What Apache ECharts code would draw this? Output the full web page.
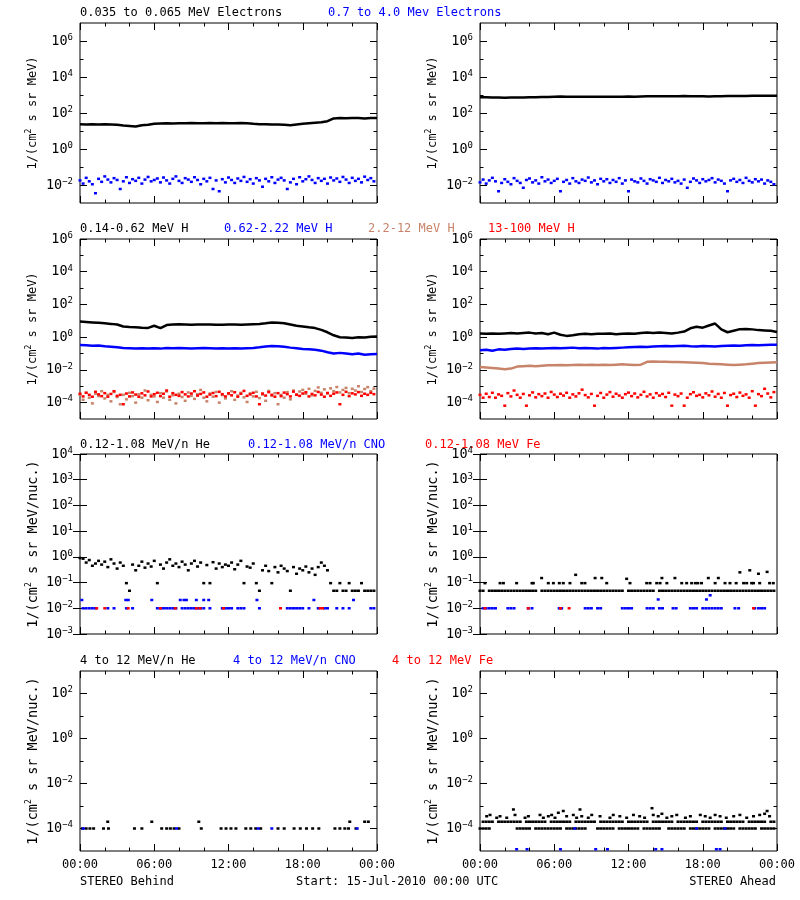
<!DOCTYPE html>
<html><head><meta charset="utf-8">
<script src="https://cdn.jsdelivr.net/npm/echarts@6/dist/echarts.min.js"></script>
<style>html,body{margin:0;padding:0;background:#fff}#c{width:800px;height:900px}</style>
</head><body><div id="c"></div>
<script>
// ---------- DATA (time in hours from 15-Jul-2010 00:00 UTC) ----------
// half-hour cadence (0 .. 24 h)
const behindEleLow = [24,23,24,23,24,23,22,20,19,18,21,22,25,26,27,26,27,27,28,27,27,28,27,28,27,27,28,27,25,24,24,23,23,22,21,23,25,27,29,31,35,50,52,51,53,52,50,52,53];
const aheadEleLow = [760,740,720,730,700,720,730,720,740,760,770,780,800,820,810,800,790,800,810,800,800,810,800,810,820,810,830,840,850,860,850,840,850,870,860,850,840,830,850,860,880,890,880,890,900,910,900,910,920];
const behindH1 = [9,8.5,8,7.5,7,6.5,6,4.5,4.2,4,3.8,3.7,5,3.6,5.5,6,6.2,6,5.8,6,5.9,6,5.7,5.8,6,5.9,5.8,6,6.2,6.3,7,7.8,7.5,7.2,6,5,4.5,4,3.6,2.8,2,1.3,1,0.95,0.9,1,0.95,1.05,1.1];
const behindH2 = [0.33,0.32,0.3,0.31,0.28,0.26,0.24,0.22,0.21,0.2,0.21,0.2,0.21,0.2,0.22,0.21,0.22,0.21,0.2,0.21,0.22,0.21,0.2,0.21,0.2,0.21,0.2,0.21,0.22,0.24,0.27,0.29,0.28,0.26,0.23,0.21,0.19,0.18,0.17,0.15,0.12,0.1,0.11,0.1,0.09,0.1,0.085,0.09,0.095];
const aheadH1 = [1.7,1.6,1.7,1.6,1.7,1.8,1.7,1.8,1.9,1.7,1.8,1.5,1.9,1.4,1.2,1.3,1.5,1.6,1.5,1.6,1.6,1.7,1.5,1.6,1.7,1.6,1.8,1.9,1.8,1.9,1.8,1.7,1.9,2.2,3.5,4.3,3.8,5.2,6.8,3,2,2.5,3.1,3.2,3,2.7,2.6,2.5,2.1];
const aheadH2 = [0.16,0.17,0.15,0.18,0.17,0.19,0.2,0.19,0.2,0.21,0.2,0.21,0.22,0.21,0.22,0.23,0.21,0.22,0.21,0.2,0.22,0.21,0.22,0.23,0.24,0.25,0.26,0.25,0.27,0.28,0.29,0.28,0.29,0.3,0.28,0.27,0.29,0.28,0.27,0.29,0.3,0.31,0.3,0.32,0.33,0.32,0.33,0.34,0.35];
const aheadH3 = [0.015,0.014,0.013,0.012,0.011,0.012,0.016,0.017,0.018,0.017,0.018,0.019,0.019,0.02,0.019,0.02,0.021,0.02,0.021,0.02,0.021,0.02,0.021,0.022,0.021,0.02,0.021,0.031,0.033,0.032,0.031,0.03,0.03,0.029,0.028,0.027,0.026,0.024,0.023,0.022,0.021,0.02,0.021,0.022,0.024,0.026,0.027,0.028,0.029];

// quarter-hour cadence (0 .. 23.75 h)
const behindEleHigh = [0.018,0.012,0.025,0.016,0.011,0.0035,0.022,0.015,0.03,0.02,0.014,0.024,0.019,0.006,0.016,0.027,0.013,0.021,0.017,0.025,0.012,0.02,0.028,0.016,0.019,0.023,0.014,0.026,0.018,0.012,0.022,0.03,0.017,0.013,0.024,0.02,0.015,0.027,0.019,0.011,0.022,0.016,0.025,0.006,0.018,0.0045,0.021,0.014,0.026,0.019,0.013,0.023,0.017,0.028,0.015,0.021,0.012,0.024,0.018,0.008,0.022,0.016,0.027,0.013,0.02,0.025,0.018,0.006,0.014,0.022,0.011,0.027,0.016,0.021,0.03,0.019,0.013,0.024,0.017,0.022,0.012,0.026,0.018,0.023,0.015,0.028,0.02,0.013,0.025,0.017,0.022,0.014,0.029,0.019,0.024,0.016];
const aheadEleHigh = [0.014,0.02,0.012,0.018,0.025,0.016,0.0045,0.013,0.021,0.015,0.011,0.024,0.017,0.013,0.007,0.019,0.023,0.014,0.018,0.012,0.027,0.016,0.02,0.013,0.017,0.022,0.0045,0.015,0.019,0.012,0.024,0.016,0.013,0.02,0.017,0.026,0.014,0.018,0.011,0.022,0.016,0.021,0.013,0.019,0.015,0.024,0.012,0.018,0.0045,0.02,0.016,0.014,0.023,0.017,0.012,0.021,0.018,0.015,0.025,0.013,0.019,0.016,0.022,0.014,0.017,0.012,0.02,0.007,0.015,0.023,0.018,0.013,0.021,0.016,0.019,0.024,0.014,0.02,0.017,0.012,0.0045,0.018,0.022,0.015,0.019,0.013,0.025,0.017,0.014,0.021,0.016,0.02,0.012,0.018,0.015,0.011];
const behindH3 = [3e-4,1.5e-4,4e-4,2e-4,9e-5,3.5e-4,2.5e-4,5e-4,1.8e-4,3e-4,1.2e-4,4.5e-4,2.2e-4,8e-5,3e-4,1.6e-4,4e-4,2.5e-4,1e-4,3.2e-4,2e-4,5.5e-4,1.4e-4,3e-4,2.4e-4,1.1e-4,3.8e-4,2e-4,4.8e-4,1.5e-4,2.8e-4,9e-5,3.5e-4,2.2e-4,1.3e-4,4.2e-4,2.6e-4,1.7e-4,3.3e-4,6e-4,2e-4,1.2e-4,3.6e-4,2.3e-4,4.5e-4,1e-4,2.9e-4,1.8e-4,3.4e-4,5e-4,1.5e-4,2.7e-4,4e-4,2.1e-4,1.1e-4,3.7e-4,2.4e-4,4.6e-4,1.9e-4,3.1e-4,1.3e-4,5.2e-4,2.6e-4,3.8e-4,8e-5,3e-4,2e-4,4.4e-4,1.6e-4,5.5e-4,3.2e-4,4.8e-4,6e-4,3.5e-4,7e-4,2.8e-4,5.2e-4,8.5e-4,4e-4,6.5e-4,3.6e-4,7.5e-4,5e-4,9e-4,4.2e-4,6e-4,8e-4,3.8e-4,7e-4,5.5e-4,1e-3,4.5e-4,6.8e-4,8.8e-4,5e-4,7.2e-4];
const behindH4 = [3.5e-4,2.4e-4,4e-4,3e-4,2.3e-4,4.6e-4,3.2e-4,2.5e-4,3.8e-4,2.3e-4,3.4e-4,5e-4,2.6e-4,3e-4,8e-5,3.6e-4,2.4e-4,4.2e-4,3.1e-4,2.3e-4,3.7e-4,2.8e-4,4.8e-4,2.4e-4,3.3e-4,4e-4,2.5e-4,3.5e-4,5.5e-4,2.3e-4,3.8e-4,3e-4,2.6e-4,4.4e-4,3.2e-4,2.4e-4,3.6e-4,5e-4,2.7e-4,3.4e-4,4.2e-4,2.3e-4,3.1e-4,3.9e-4,2.5e-4,4.6e-4,3.3e-4,2.4e-4,3.7e-4,2.8e-4,4.3e-4,2.3e-4,3.5e-4,5.2e-4,2.6e-4,3.2e-4,4e-4,2.4e-4,8e-5,3.6e-4,2.7e-4,4.4e-4,3e-4,2.3e-4,3.8e-4,2.5e-4,4.1e-4,3.3e-4,2.4e-4,4.7e-4,3e-4,2.6e-4,3.6e-4,4.3e-4,2.4e-4,3.4e-4,2.8e-4,4.5e-4,3.1e-4,2.3e-4,3.9e-4,2.6e-4,3.5e-4,4.2e-4,8e-5,3e-4,4.6e-4,2.5e-4,3.7e-4,3.2e-4,4.4e-4,2.6e-4,3.5e-4,3e-4,4e-4,3.3e-4];
const aheadH4 = [3e-4,2e-4,3.5e-4,2.2e-4,4e-4,2e-4,3.2e-4,2.6e-4,6.5e-5,3.8e-4,2.4e-4,5.5e-4,3e-4,2e-4,3.4e-4,6.5e-5,2.8e-4,4.2e-4,2.1e-4,3.3e-4,2.5e-4,3.6e-4,2e-4,4.5e-4,3.1e-4,2.2e-4,3.5e-4,2.7e-4,4e-4,2e-4,3.2e-4,2.4e-4,3.7e-4,6.2e-4,2.9e-4,2.1e-4,3.4e-4,6.5e-5,2.6e-4,3.9e-4,2e-4,3.1e-4,4.4e-4,2.3e-4,3.5e-4,2.7e-4,2e-4,3.3e-4,4.1e-4,2.5e-4,3.6e-4,2.1e-4,3e-4,4.6e-4,2.4e-4,3.2e-4,2e-4,3.8e-4,2.7e-4,3.4e-4,2.2e-4,4e-4,6.5e-5,3.1e-4,2.5e-4,3.6e-4,6.5e-5,2e-4,3.3e-4,4.3e-4,2.6e-4,3e-4,2.1e-4,3.7e-4,2.8e-4,4.8e-4,2.3e-4,3.4e-4,2e-4,3.9e-4,6.5e-5,2.9e-4,3.5e-4,2.2e-4,4.1e-4,2.6e-4,3.2e-4,2e-4,5e-4,6.5e-5,3.3e-4,2.5e-4,7e-4,3.6e-4,2.1e-4,4.4e-4];
const behindHe = [0.9,0.85,0.6,0.75,0.45,0.55,0.7,0.5,0.65,0.4,0.8,0.55,0.35,0.6,0.45,0.095,0.048,0.5,0.3,0.45,0.65,0.38,0.55,0.42,0.7,0.095,0.5,0.35,0.6,0.8,0.45,0.55,0.4,0.65,0.5,0.3,0.55,0.7,0.42,0.6,0.095,0.48,0.095,0.62,0.35,0.55,0.4,0.5,0.45,0.6,0.33,0.5,0.7,0.095,0.42,0.38,0.55,0.095,0.048,0.3,0.45,0.28,0.095,0.4,0.25,0.45,0.35,0.28,0.048,0.4,0.22,0.35,0.3,0.42,0.25,0.35,0.2,0.4,0.6,0.45,0.3,0.095,0.048,0.048,0.095,0.048,0.048,0.095,0.048,0.048,0.048,0.095,0.048,0.048,0.048,0.048];
const aheadHeBase = [0.048,0.048,null,0.048,0.048,0.048,0.048,0.048,0.048,0.048,0.048,0.048,0.048,0.048,0.048,0.048,0.048,0.048,0.048,null,0.048,0.048,0.048,0.048,0.048,0.048,0.048,0.048,0.048,0.048,0.048,0.048,0.048,0.048,0.048,0.048,0.048,0.048,0.048,0.048,0.048,0.048,0.048,0.048,0.048,0.048,0.048,null,0.048,0.048,0.048,0.048,0.048,0.048,0.048,0.048,0.048,null,0.048,0.048,0.048,0.048,0.048,0.048,0.048,0.048,0.048,0.048,0.048,0.048,0.048,0.048,0.048,0.048,0.048,0.048,0.048,0.048,0.048,0.048,0.048,0.048,0.048,0.048,0.048,0.048,0.048,0.048,0.048,0.048,0.048,0.048,0.048,0.048,0.048,0.048];
const aheadHe4Low = [1e-4,1e-4,1e-4,1e-4,null,null,null,null,null,null,null,null,1e-4,1e-4,1e-4,1e-4,1e-4,null,1e-4,1e-4,1e-4,1e-4,1e-4,1e-4,1e-4,1e-4,1e-4,null,1e-4,1e-4,1e-4,1e-4,1e-4,1e-4,1e-4,null,null,null,1e-4,1e-4,1e-4,1e-4,1e-4,1e-4,null,1e-4,1e-4,1e-4,1e-4,1e-4,1e-4,1e-4,null,1e-4,1e-4,1e-4,1e-4,1e-4,1e-4,null,null,1e-4,1e-4,1e-4,1e-4,1e-4,1e-4,null,1e-4,1e-4,1e-4,1e-4,1e-4,1e-4,1e-4,null,1e-4,1e-4,1e-4,1e-4,1e-4,1e-4,1e-4,null,1e-4,1e-4,1e-4,1e-4,1e-4,1e-4,null,1e-4,1e-4,1e-4,1e-4,1e-4];
const aheadHe4Mid = [null,2e-4,2e-4,2e-4,2e-4,null,2e-4,2e-4,2e-4,2e-4,2e-4,2e-4,2e-4,2e-4,null,2e-4,2e-4,2e-4,2e-4,2e-4,2e-4,2e-4,null,2e-4,2e-4,2e-4,2e-4,2e-4,2e-4,2e-4,null,2e-4,2e-4,2e-4,2e-4,2e-4,2e-4,2e-4,null,2e-4,2e-4,2e-4,2e-4,2e-4,2e-4,2e-4,2e-4,null,2e-4,2e-4,2e-4,2e-4,2e-4,2e-4,2e-4,null,2e-4,2e-4,2e-4,2e-4,2e-4,2e-4,2e-4,null,2e-4,2e-4,2e-4,2e-4,2e-4,2e-4,2e-4,null,2e-4,2e-4,2e-4,2e-4,2e-4,2e-4,2e-4,null,2e-4,2e-4,2e-4,2e-4,2e-4,2e-4,null,2e-4,2e-4,2e-4,2e-4,2e-4,2e-4,null,2e-4,2e-4];

// sparse [hour, value] points
const behindHeCNO = [[0.15,0.021],[0.25,0.01],[0.5,0.01],[0.75,0.01],[1,0.01],[1.25,0.01],[2.25,0.01],[2.75,0.01],[3.7,0.021],[3.75,0.01],[3.9,0.021],[4.25,0.01],[5.8,0.021],[6.25,0.01],[6.5,0.01],[6.75,0.01],[7,0.01],[7.25,0.01],[7.5,0.01],[7.75,0.01],[8.1,0.021],[8.25,0.01],[8.4,0.021],[8.5,0.01],[8.6,0.021],[8.75,0.01],[9,0.01],[9.25,0.01],[9.4,0.021],[9.5,0.01],[9.75,0.01],[10,0.021],[10,0.01],[10.4,0.021],[10.5,0.01],[11.5,0.01],[11.75,0.01],[12,0.01],[12.25,0.01],[12.75,0.01],[13,0.01],[13.25,0.01],[14.3,0.021],[14.5,0.01],[16.75,0.01],[17,0.01],[17.25,0.01],[17.5,0.01],[17.75,0.01],[18,0.01],[18.5,0.01],[18.9,0.021],[19.25,0.01],[19.75,0.01],[20,0.01],[20.75,0.01],[21.25,0.01],[21.75,0.01],[22.1,0.021],[23.5,0.01],[23.75,0.01]];
const behindHeFe = [[1.35,0.01],[2,0.01],[3.9,0.01],[6.5,0.01],[7.7,0.01],[9.4,0.01],[9.7,0.01],[11.6,0.01],[16.2,0.01],[19.4,0.01],[19.6,0.01]];
const aheadHeHigh = [[0.4,0.095],[1.62,0.095],[1.89,0.095],[2.96,0.095],[4.2,0.095],[4.31,0.095],[4.98,0.15],[5.52,0.095],[5.93,0.095],[6.41,0.095],[6.73,0.095],[7.27,0.095],[7.73,0.2],[8.22,0.095],[8.48,0.095],[9.3,0.15],[9.84,0.15],[10.24,0.095],[11.85,0.14],[12.12,0.095],[13.47,0.095],[13.74,0.095],[14.28,0.095],[14.55,0.095],[14.7,0.15],[15.1,0.095],[15.75,0.15],[16.3,0.095],[16.7,0.095],[17.1,0.095],[17.4,0.095],[17.6,0.095],[17.9,0.095],[18.45,0.15],[19,0.095],[19.26,0.15],[19.8,0.095],[20.2,0.095],[20.7,0.095],[21,0.25],[21.3,0.095],[21.55,0.095],[21.8,0.3],[21.95,0.095],[22.1,0.095],[22.5,0.22],[22.6,0.095],[23.2,0.26],[23.4,0.095],[23.7,0.095]];
const aheadHeCNO = [[0.25,0.01],[0.5,0.01],[0.75,0.01],[1,0.01],[1.25,0.01],[2.25,0.01],[2.5,0.01],[2.75,0.01],[3.9,0.01],[4.2,0.01],[6.4,0.01],[6.6,0.01],[8.5,0.01],[8.75,0.01],[9,0.01],[9.5,0.01],[9.75,0.01],[11.5,0.01],[11.75,0.01],[12,0.01],[12.25,0.01],[13.5,0.01],[13.75,0.01],[14,0.01],[14.4,0.022],[14.5,0.01],[14.75,0.01],[15.6,0.01],[15.85,0.01],[17,0.01],[17.25,0.01],[17.5,0.01],[18,0.01],[18.25,0.01],[18.3,0.022],[18.5,0.01],[18.6,0.032],[18.75,0.01],[19,0.01],[19.25,0.01],[19.5,0.01],[20.6,0.01],[20.9,0.01],[22.2,0.01],[22.5,0.01],[22.75,0.01],[23,0.01]];
const aheadHeFe = [[0.4,0.01],[3.9,0.01],[6.5,0.01],[7.2,0.01],[22.1,0.01]];
const behindHe4 = [[0.2,1e-4],[0.5,1e-4],[0.8,1e-4],[1.1,1e-4],[1.9,1e-4],[2.24,2e-4],[2.3,1e-4],[4.4,1e-4],[5,1e-4],[5.8,2e-4],[6.6,1e-4],[7,1e-4],[7.3,1e-4],[7.6,1e-4],[8,1e-4],[9.6,2e-4],[9.8,1e-4],[11.4,1e-4],[11.8,1e-4],[12.2,1e-4],[12.6,1e-4],[13.4,1e-4],[13.8,1e-4],[14.2,1e-4],[14.6,1e-4],[16,1e-4],[16.5,1e-4],[17.3,1e-4],[17.8,1e-4],[18.3,1e-4],[18.8,1e-4],[19.3,1e-4],[20.6,1e-4],[21,1e-4],[21.4,1e-4],[21.7,1e-4],[21.8,2e-4],[22.3,1e-4],[23,2e-4],[23.3,2e-4]];
const behindCNO4 = [[0.27,1e-4],[7.8,1e-4],[14.4,1e-4],[15.5,1e-4],[22.4,1e-4]];
const aheadHe4High = [[0.54,3.5e-4],[0.81,4e-4],[1.35,3e-4],[1.62,3.5e-4],[2.16,3e-4],[2.7,7e-4],[2.83,4e-4],[3.64,3e-4],[3.91,3.5e-4],[4.85,4e-4],[5.12,3e-4],[5.52,3.5e-4],[5.79,4e-4],[6.06,3e-4],[6.33,5e-4],[6.73,6e-4],[7,3.5e-4],[7.54,4e-4],[7.81,3e-4],[8.08,7e-4],[8.22,3.5e-4],[8.75,3e-4],[9.03,4e-4],[9.7,3.5e-4],[10.5,3e-4],[10.77,4e-4],[11.3,3.5e-4],[11.85,3e-4],[12.4,4e-4],[12.9,3.5e-4],[13.3,3e-4],[13.9,8e-4],[14,4e-4],[14.4,3.5e-4],[14.7,4.5e-4],[15.1,3e-4],[15.5,3.5e-4],[15.9,4e-4],[16.6,3e-4],[17,3.5e-4],[17.8,4e-4],[18.2,3.5e-4],[18.6,3e-4],[19,4e-4],[19.4,3.5e-4],[19.9,3e-4],[20.5,3.5e-4],[21,4e-4],[21.55,3e-4],[22.1,3.5e-4],[22.6,4e-4],[23,4.5e-4],[23.2,6e-4],[23.4,3.5e-4]];
const aheadCNO4 = [[7.67,1e-4],[17.5,1e-4],[19.8,1e-4],[2.96,1.2e-5],[3.8,1.2e-5],[6.5,1.2e-5],[9.35,1.2e-5],[10.3,1.2e-5],[14.2,1.2e-5],[14.7,1.2e-5],[19.1,1.2e-5],[19.4,1.2e-5]];

// axis tick labels
const xTickLabels = ['00:00','06:00','12:00','18:00','00:00'];
const rowAxes = [
  {min:1e-3, max:1e7, major:[-2,0,2,4,6], minor:[-1,1,3,5], title:'MeV'},
  {min:1e-5, max:1e6, major:[-4,-2,0,2,4,6], minor:[-3,-1,1,3,5], title:'MeV'},
  {min:1e-3, max:1e4, major:[-3,-2,-1,0,1,2,3,4], minor:[], title:'MeV/nuc.'},
  {min:1e-5, max:1e3, major:[-4,-2,0,2], minor:[-3,-1,1], title:'MeV/nuc.'}
];
const titles = [
  [['0.035 to 0.065 MeV Electrons','#000000',80],['0.7 to 4.0 Mev Electrons','#0000ff',328]],
  [['0.14-0.62 MeV H','#000000',80],['0.62-2.22 MeV H','#0000ff',224],['2.2-12 MeV H','#c8846a',368],['13-100 MeV H','#ff0000',488]],
  [['0.12-1.08 MeV/n He','#000000',80],['0.12-1.08 MeV/n CNO','#0000ff',248],['0.12-1.08 MeV Fe','#ff0000',425]],
  [['4 to 12 MeV/n He','#000000',80],['4 to 12 MeV/n CNO','#0000ff',233],['4 to 12 MeV Fe','#ff0000',392]]
];

// ---------- CHART ----------
const FONT = '"DejaVu Sans Mono", monospace';
const BLACK='#000000', BLUE='#0000ff', SIENNA='#c8846a', RED='#ff0000';
function cad(arr, step){ const out=[]; arr.forEach((v,i)=>{ if(v!=null) out.push([i*step, v]); }); return out; }
const L = (arr)=>cad(arr,0.5), Q = (arr)=>cad(arr,0.25);

const panels = [
  [ {d:L(behindEleLow),c:BLACK,t:'line'}, {d:Q(behindEleHigh),c:BLUE,t:'sc'} ],
  [ {d:L(aheadEleLow),c:BLACK,t:'line'}, {d:Q(aheadEleHigh),c:BLUE,t:'sc'} ],
  [ {d:L(behindH1),c:BLACK,t:'line'}, {d:L(behindH2),c:BLUE,t:'line'}, {d:Q(behindH3),c:SIENNA,t:'sc'}, {d:Q(behindH4),c:RED,t:'sc'} ],
  [ {d:L(aheadH1),c:BLACK,t:'line'}, {d:L(aheadH2),c:BLUE,t:'line'}, {d:L(aheadH3),c:SIENNA,t:'line'}, {d:Q(aheadH4),c:RED,t:'sc'} ],
  [ {d:Q(behindHe),c:BLACK,t:'sc'}, {d:behindHeCNO,c:BLUE,t:'sc'}, {d:behindHeFe,c:RED,t:'sc'} ],
  [ {d:Q(aheadHeBase),c:BLACK,t:'sc'}, {d:aheadHeHigh,c:BLACK,t:'sc'}, {d:aheadHeCNO,c:BLUE,t:'sc'}, {d:aheadHeFe,c:RED,t:'sc'} ],
  [ {d:behindHe4,c:BLACK,t:'sc'}, {d:behindCNO4,c:BLUE,t:'sc'} ],
  [ {d:Q(aheadHe4Low),c:BLACK,t:'sc'}, {d:Q(aheadHe4Mid),c:BLACK,t:'sc'}, {d:aheadHe4High,c:BLACK,t:'sc'}, {d:aheadCNO4,c:BLUE,t:'sc'} ]
];

const TOPS=[23,239,454,671], LEFTS=[80,480], GW=297, GH=180;
const grid=[], xAxis=[], yAxis=[], series=[], graphic=[];
const expFmt = v => { const e=Math.round(Math.log10(v)); return '{b|10}{e|'+(e<0?'\u2212'+(-e):e)+'}'; };
const richLab = {b:{fontFamily:FONT,fontSize:13.5,lineHeight:16,color:'#000',verticalAlign:'middle'},
                 e:{fontFamily:FONT,fontSize:9,lineHeight:9,color:'#000',verticalAlign:'top'}};
for(let r=0;r<4;r++){
  const ra = rowAxes[r];
  for(let c=0;c<2;c++){
    const g=r*2+c;
    grid.push({left:LEFTS[c], top:TOPS[r], width:GW, height:GH, show:true, borderColor:'#000', borderWidth:1, backgroundColor:'transparent'});
    const xBase = xAxis.length;
    ['bottom','top'].forEach(pos=>{
      xAxis.push({gridIndex:g, type:'value', min:0, max:24, interval:6, position:pos,
        axisLine:{show:false}, splitLine:{show:false},
        axisTick:{show:true, inside:true, length:7, lineStyle:{color:'#000',width:1}},
        minorTick:{show:true, splitNumber:3, length:3.5, lineStyle:{color:'#000',width:1}},
        minorSplitLine:{show:false},
        axisLabel:{show: r===3 && pos==='bottom', margin:8, color:'#000', fontFamily:FONT, fontSize:12,
          formatter: v => xTickLabels[Math.round(v/6)]}
      });
    });
    const yBase = yAxis.length;
    ['left','right'].forEach(pos=>{
      yAxis.push({gridIndex:g, type:'log', logBase:10, min:ra.min, max:ra.max, position:pos,
        axisLine:{show:false}, splitLine:{show:false},
        axisTick:{show:true, inside:true, length:7, customValues: ra.major.map(e=>Math.pow(10,e)), lineStyle:{color:'#000'}},
        axisLabel:{show: pos==='left', customValues: ra.major.map(e=>Math.pow(10,e)), margin:7, formatter: expFmt, rich: richLab}
      });
      if(ra.minor.length){
        yAxis.push({gridIndex:g, type:'log', logBase:10, min:ra.min, max:ra.max, position:pos,
          axisLine:{show:false}, splitLine:{show:false},
          axisTick:{show:true, inside:true, length:3.5, customValues: ra.minor.map(e=>Math.pow(10,e)), lineStyle:{color:'#000'}},
          axisLabel:{show:false}
        });
      }
    });
    panels[g].forEach(s=>{
      if(s.t==='line'){
        series.push({type:'line', xAxisIndex:xBase, yAxisIndex:yBase, data:s.d, showSymbol:false, symbol:'none',
          lineStyle:{color:s.c, width:2.5}, silent:true, clip:true});
      } else {
        series.push({type:'scatter', xAxisIndex:xBase, yAxisIndex:yBase, data:s.d, symbol:'rect', symbolSize:[3,2.5],
          itemStyle:{color:s.c, opacity:1}, silent:true, clip:true});
      }
    });
    // y axis title
    graphic.push({type:'text', x:LEFTS[c]-47, y:TOPS[r]+GH/2, rotation:Math.PI/2,
      style:{text:'{a|1/(cm}{s|2}{a| s sr '+ra.title+')}', align:'center', verticalAlign:'middle',
        rich:{a:{fontFamily:FONT,fontSize:(r<2?12:13.5),lineHeight:16,fill:'#000',verticalAlign:'middle'},
              s:{fontFamily:FONT,fontSize:8,lineHeight:8,fill:'#000',verticalAlign:'top'}}}});
  }
  const ty = [13,229,445,661][r];
  titles[r].forEach(([t,col,x])=>{
    graphic.push({type:'text', x:x, y:ty, style:{text:t, fill:col, font:'12px '+FONT, align:'left', verticalAlign:'middle'}});
  });
}
graphic.push({type:'text', x:80, y:882, style:{text:'STEREO Behind', fill:'#000', font:'12px '+FONT, align:'left', verticalAlign:'middle'}});
graphic.push({type:'text', x:296, y:882, style:{text:'Start: 15-Jul-2010 00:00 UTC', fill:'#000', font:'12px '+FONT, align:'left', verticalAlign:'middle'}});
graphic.push({type:'text', x:776, y:882, style:{text:'STEREO Ahead', fill:'#000', font:'12px '+FONT, align:'right', verticalAlign:'middle'}});

const chart = echarts.init(document.getElementById('c'), null, {renderer:'canvas'});
chart.setOption({animation:false, backgroundColor:'#ffffff', grid, xAxis, yAxis, series, graphic});
</script></body></html>
